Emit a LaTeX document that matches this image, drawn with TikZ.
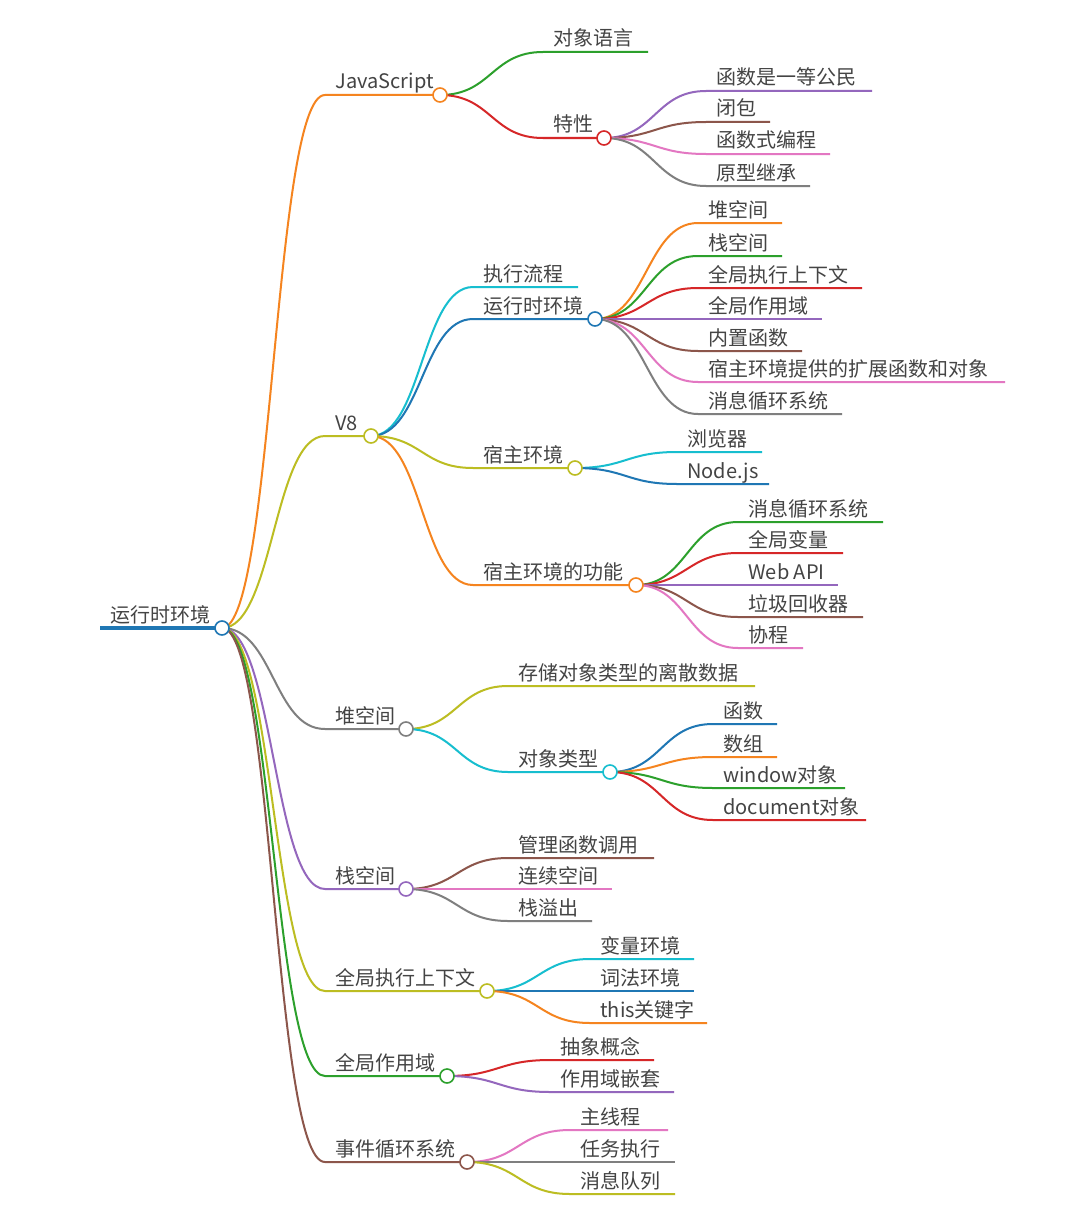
\documentclass[tikz,border=0pt]{standalone}
\usepackage{fontspec}
\setmainfont{Noto Sans CJK SC}
\usetikzlibrary{calc}
\pgfdeclarelayer{background}
\pgfdeclarelayer{bottom}
\pgfsetlayers{bottom,background,main}
\definecolor{cO}{HTML}{F5841F}\definecolor{cG}{HTML}{2CA02C}\definecolor{cR}{HTML}{D62728}
\definecolor{cP}{HTML}{9467BD}\definecolor{cB}{HTML}{8C564B}\definecolor{cK}{HTML}{E377C2}
\definecolor{cY}{HTML}{7F7F7F}\definecolor{cL}{HTML}{BCBD22}\definecolor{cC}{HTML}{17BECF}
\definecolor{cU}{HTML}{1F77B4}\definecolor{txt}{HTML}{444444}
\tikzset{edge/.style={line width=1pt},lbl/.style={inner sep=0pt,text=txt,font=\fontsize{10}{12}\selectfont},
 dot/.style={circle,fill=white,line width=0.8pt,minimum size=7pt,inner sep=0pt}}
\newcommand\mm[7]{%
 \coordinate (#1s) at (#3,#5); \coordinate (#1) at (#4,#5);
 \coordinate (#1m) at ($(#2)!0.5!(#1s)$);
 \node[lbl,anchor=base west] (#1t) at (#3+10,#5-6) {#7};
 \begin{pgfonlayer}{background}
 \draw[#6,edge] (#2) .. controls (#1m |- #2) and (#1m |- #1s) .. (#1s) -- (#1);
 \end{pgfonlayer}}
\newcommand\mmdot[2]{\node[dot,draw=#2] (#1c) at (#1) {};}
\begin{document}
\begin{tikzpicture}[x=0.5pt,y=-0.5pt]
\begin{pgfonlayer}{bottom}
\fill[white] (0,0) rectangle (1072,1220);
\end{pgfonlayer}
\useasboundingbox (0,0) rectangle (1072,1220);
\coordinate (root) at (222,628);
\node[lbl,anchor=base west] (roott) at (110,622) {运行时环境};
\draw[cU,line width=2pt] (100,628) -- (root);
% level 1
\mm{js}{root}{325}{440}{95}{cO}{JavaScript}
\mm{v8}{root}{325}{371}{436}{cL}{V8}
\mm{heap}{root}{325}{406}{729}{cY}{堆空间}
\mm{stack}{root}{325}{406}{889}{cP}{栈空间}
\mm{gec}{root}{325}{487}{991}{cL}{全局执行上下文}
\mm{gs}{root}{325}{447}{1076}{cG}{全局作用域}
\mm{ev}{root}{325}{467}{1162}{cB}{事件循环系统}
% JavaScript
\mm{obj}{js}{543}{648}{52}{cG}{对象语言}
\mm{feat}{js}{543}{604}{138}{cR}{特性}
\mm{f1}{feat}{706}{872}{91}{cP}{函数是一等公民}
\mm{f2}{feat}{706}{770}{122}{cB}{闭包}
\mm{f3}{feat}{706}{830}{154}{cK}{函数式编程}
\mm{f4}{feat}{706}{810}{186}{cY}{原型继承}
% V8
\mm{exec}{v8}{473}{578}{287}{cC}{执行流程}
\mm{rt}{v8}{473}{595}{319}{cU}{运行时环境}
\mm{host}{v8}{473}{575}{468}{cL}{宿主环境}
\mm{hf}{v8}{473}{636}{585}{cO}{宿主环境的功能}
\mm{r1}{rt}{698}{782}{223}{cO}{堆空间}
\mm{r2}{rt}{698}{782}{256}{cG}{栈空间}
\mm{r3}{rt}{698}{862}{288}{cR}{全局执行上下文}
\mm{r4}{rt}{698}{822}{319}{cP}{全局作用域}
\mm{r5}{rt}{698}{802}{351}{cB}{内置函数}
\mm{r6}{rt}{698}{1005}{382}{cK}{宿主环境提供的扩展函数和对象}
\mm{r7}{rt}{698}{842}{414}{cY}{消息循环系统}
\mm{h1}{host}{677}{762}{452}{cC}{浏览器}
\mm{h2}{host}{677}{769}{484}{cU}{Node.js}
\mm{g1}{hf}{738}{883}{522}{cG}{消息循环系统}
\mm{g2}{hf}{738}{843}{553}{cR}{全局变量}
\mm{g3}{hf}{738}{838}{585}{cP}{Web API}
\mm{g4}{hf}{738}{863}{617}{cB}{垃圾回收器}
\mm{g5}{hf}{738}{803}{648}{cK}{协程}
% heap
\mm{hp1}{heap}{508}{755}{686}{cL}{存储对象类型的离散数据}
\mm{ot}{heap}{508}{610}{772}{cC}{对象类型}
\mm{o1}{ot}{713}{777}{724}{cU}{函数}
\mm{o2}{ot}{713}{777}{757}{cO}{数组}
\mm{o3}{ot}{713}{845}{788}{cG}{window对象}
\mm{o4}{ot}{713}{866}{820}{cR}{document对象}
% stack
\mm{s1}{stack}{508}{654}{858}{cB}{管理函数调用}
\mm{s2}{stack}{508}{612}{889}{cK}{连续空间}
\mm{s3}{stack}{508}{592}{921}{cY}{栈溢出}
% gec
\mm{e1}{gec}{590}{694}{959}{cC}{变量环境}
\mm{e2}{gec}{590}{694}{991}{cU}{词法环境}
\mm{e3}{gec}{590}{707}{1023}{cO}{this关键字}
% gs
\mm{a1}{gs}{550}{654}{1060}{cR}{抽象概念}
\mm{a2}{gs}{550}{674}{1092}{cP}{作用域嵌套}
% ev
\mm{v1}{ev}{570}{668}{1130}{cK}{主线程}
\mm{v2}{ev}{570}{675}{1162}{cY}{任务执行}
\mm{v3}{ev}{570}{675}{1194}{cL}{消息队列}
% dots
\mmdot{root}{cU}\mmdot{js}{cO}\mmdot{v8}{cL}\mmdot{heap}{cY}\mmdot{stack}{cP}
\mmdot{gec}{cL}\mmdot{gs}{cG}\mmdot{ev}{cB}\mmdot{feat}{cR}\mmdot{rt}{cU}
\mmdot{host}{cL}\mmdot{hf}{cO}\mmdot{ot}{cC}
\end{tikzpicture}
\end{document}
